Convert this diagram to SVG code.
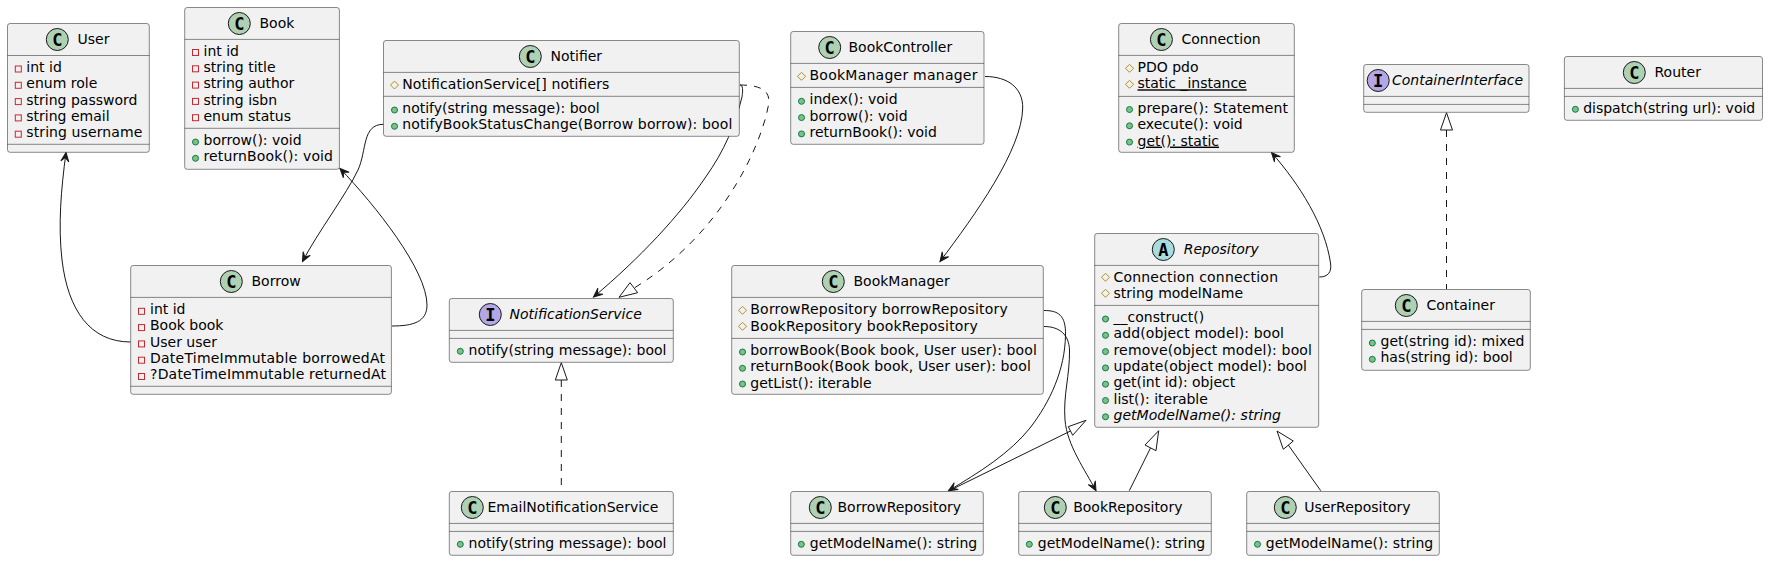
<svg xmlns="http://www.w3.org/2000/svg" width="1768" height="561" viewBox="0 0 1768 561">
<style>
text{font-family:"DejaVu Sans",sans-serif;font-size:14px;fill:#000}
.b{fill:#F1F1F1;stroke:#181818;stroke-width:.5}
.s{stroke:#181818;stroke-width:.5;fill:none}
.i{font-style:italic}
.u{text-decoration:underline}
.L{font-family:"DejaVu Sans Mono",monospace;font-weight:bold;font-size:17px;text-anchor:middle}
.C{fill:#ADD1B2;stroke:#181818;stroke-width:1}
.I{fill:#B4A7E5;stroke:#181818;stroke-width:1}
.A{fill:#A9DCDF;stroke:#181818;stroke-width:1}
.pr{fill:none;stroke:#C82930;stroke-width:1}
.pt{fill:none;stroke:#B38D22;stroke-width:1}
.pb{fill:#84BE84;stroke:#038048;stroke-width:1}
.l{fill:none;stroke:#181818;stroke-width:1}
.d{stroke-dasharray:7,7}
.ah{marker-end:url(#arrow)}
</style>
<defs>
<marker id="arrow" markerUnits="userSpaceOnUse" markerWidth="12" markerHeight="10" viewBox="0 0 12 10" refX="10" refY="5" orient="auto"><path d="M10,5 L1,1 L5,5 L1,9 Z" fill="#181818" stroke="#181818" stroke-width="1"/></marker>
<rect id="vpr" x="-3" y="-3" width="6" height="6" class="pr"/>
<path id="vpt" d="M0,-4 L4,0 L0,4 L-4,0 Z" class="pt"/>
<circle id="vpb" r="3" class="pb"/>
</defs>
<g id="connectors">
<path class="l ah" d="M383.5,124.3 C362,124.3 367,150 358,170 C346,195 318,232 302.5,261.5"/>
<path class="l ah" d="M392,326 C413,326 427,322 427,305 C427,270 375,205 340,168.5"/>
<path class="l ah" d="M130.7,342 C90,342 68,310 62,260 C58,225 61,190 66,152.5"/>
<path class="l ah" d="M740,85 C743,85 743,90 742,97 C735,125 725,150 705,178 C680,215 640,258 593.5,297"/>
<path class="l d" d="M635,287.5 C720,235 760,150 768.5,105 C771,90 760,85 739.5,85"/>
<path class="l" d="M619,297.3 L630,282.7 L637.7,292.7 Z"/>
<path class="l d" d="M561.3,380 L561.3,491"/>
<path class="l" d="M561.3,362.7 L555.3,380 L567.3,380 Z"/>
<path class="l d" d="M1446.5,130 L1446.5,289.3"/>
<path class="l" d="M1446.5,112.7 L1440.5,130 L1452.5,130 Z"/>
<path class="l ah" d="M985,76.5 C1008,76.5 1023,88 1022.7,108 C1022,150 975,215 940,261.5"/>
<path class="l ah" d="M1044,310.5 C1058,310.5 1066,315 1065.5,335 C1065,370 1050,402 1030,428 C1010,453 980,472 948.5,490.7"/>
<path class="l ah" d="M1044,326.5 C1060,326.5 1069,335 1069.5,350 C1070,375 1063,395 1065,420 C1067,445 1085,470 1096,490.7"/>
<path class="l" d="M949.3,490.7 L1070.5,431"/>
<path class="l" d="M1086,420.3 L1068.3,426.7 L1072.7,435.3 Z"/>
<path class="l" d="M1129.3,490.7 L1150.5,448"/>
<path class="l" d="M1158.7,430.7 L1145,445 L1156,450.7 Z"/>
<path class="l" d="M1320.7,490.7 L1288.3,445"/>
<path class="l" d="M1277,431 L1293.3,441 L1283.3,449.3 Z"/>
<path class="l ah" d="M1319.3,277 C1328,277 1332,272 1330.5,263 C1325,225 1300,185 1271.5,152.5"/>
</g>
<g id="User">
<rect class="b" x="7.5" y="23.5" width="141.8" height="128.8" rx="2.5"/>
<path class="s" d="M7.5,55.5H149.3M7.5,144.3H149.3"/>
<circle class="C" cx="57.3" cy="39.5" r="11"/><text class="L" x="57.3" y="45.5">C</text>
<text x="77.5" y="44">User</text>
<use href="#vpr" x="18.3" y="69"/><text x="26.3" y="72">int id</text>
<use href="#vpr" x="18.3" y="85.3"/><text x="26.3" y="88.3">enum role</text>
<use href="#vpr" x="18.3" y="101.6"/><text x="26.3" y="104.6">string password</text>
<use href="#vpr" x="18.3" y="117.9"/><text x="26.3" y="120.9">string email</text>
<use href="#vpr" x="18.3" y="134.2"/><text x="26.3" y="137.2" textLength="116">string username</text>
</g>
<g id="Book">
<rect class="b" x="184.7" y="7.5" width="154.7" height="161.8" rx="2.5"/>
<path class="s" d="M184.7,39.4H339.4M184.7,128.3H339.4"/>
<circle class="C" cx="239.3" cy="23.5" r="11"/><text class="L" x="239.3" y="29.5">C</text>
<text x="259.5" y="28">Book</text>
<use href="#vpr" x="195.5" y="52.5"/><text x="203.5" y="55.8">int id</text>
<use href="#vpr" x="195.5" y="68.8"/><text x="203.5" y="72.1">string title</text>
<use href="#vpr" x="195.5" y="85.1"/><text x="203.5" y="88.4">string author</text>
<use href="#vpr" x="195.5" y="101.4"/><text x="203.5" y="104.7">string isbn</text>
<use href="#vpr" x="195.5" y="117.7"/><text x="203.5" y="121">enum status</text>
<use href="#vpb" x="195.5" y="142"/><text x="203.5" y="144.8">borrow(): void</text>
<use href="#vpb" x="195.5" y="158.3"/><text x="203.5" y="161.1" textLength="129.5">returnBook(): void</text>
</g>
<g id="Notifier">
<rect class="b" x="383.5" y="40.5" width="355.8" height="95.8" rx="2.5"/>
<path class="s" d="M383.5,72.4H739.3M383.5,96.3H739.3"/>
<circle class="C" cx="530.3" cy="56.5" r="11"/><text class="L" x="530.3" y="62.5">C</text>
<text x="550.5" y="61">Notifier</text>
<use href="#vpt" x="394.5" y="85"/><text x="402.3" y="88.7" textLength="207">NotificationService[] notifiers</text>
<use href="#vpb" x="394.5" y="110"/><text x="402.3" y="113">notify(string message): bool</text>
<use href="#vpb" x="394.5" y="126.3"/><text x="402.3" y="129.3" textLength="330">notifyBookStatusChange(Borrow borrow): bool</text>
</g>
<g id="Borrow">
<rect class="b" x="130.7" y="265.5" width="260.7" height="128.8" rx="2.5"/>
<path class="s" d="M130.7,297.4H391.4M130.7,386.3H391.4"/>
<circle class="C" cx="231.3" cy="281.5" r="11"/><text class="L" x="231.3" y="287.5">C</text>
<text x="251.5" y="286">Borrow</text>
<use href="#vpr" x="141.5" y="311.3"/><text x="150" y="314">int id</text>
<use href="#vpr" x="141.5" y="327.6"/><text x="150" y="330.3">Book book</text>
<use href="#vpr" x="141.5" y="343.9"/><text x="150" y="346.6">User user</text>
<use href="#vpr" x="141.5" y="360.2"/><text x="150" y="362.9" textLength="235">DateTimeImmutable borrowedAt</text>
<use href="#vpr" x="141.5" y="376.5"/><text x="150" y="379.2" textLength="236">?DateTimeImmutable returnedAt</text>
</g>
<g id="NotificationService">
<rect class="b" x="449.3" y="298.5" width="224" height="63.8" rx="2.5"/>
<path class="s" d="M449.3,330.4H673.3M449.3,338.4H673.3"/>
<circle class="I" cx="490.3" cy="314.5" r="11"/><text class="L" x="490.3" y="320.5">I</text>
<text class="i" x="509.5" y="319">NotificationService</text>
<use href="#vpb" x="460.3" y="351.3"/><text x="468.5" y="354.6" textLength="198">notify(string message): bool</text>
</g>
<g id="EmailNotificationService">
<rect class="b" x="449.3" y="491.5" width="224" height="63.8" rx="2.5"/>
<path class="s" d="M449.3,523.4H673.3M449.3,531.4H673.3"/>
<circle class="C" cx="472.3" cy="507.5" r="11"/><text class="L" x="472.3" y="513.5">C</text>
<text x="487.5" y="512">EmailNotificationService</text>
<use href="#vpb" x="460.3" y="544.3"/><text x="468.5" y="547.6" textLength="198">notify(string message): bool</text>
</g>
<g id="BookController">
<rect class="b" x="790.7" y="31.5" width="193.3" height="112.8" rx="2.5"/>
<path class="s" d="M790.7,63.4H984M790.7,87.4H984"/>
<circle class="C" cx="829.7" cy="47.5" r="11"/><text class="L" x="829.7" y="53.5">C</text>
<text x="848.5" y="52">BookController</text>
<use href="#vpt" x="801.5" y="76.3"/><text x="809.5" y="80" textLength="168">BookManager manager</text>
<use href="#vpb" x="801.5" y="101.3"/><text x="809.5" y="104.3">index(): void</text>
<use href="#vpb" x="801.5" y="117.6"/><text x="809.5" y="120.6">borrow(): void</text>
<use href="#vpb" x="801.5" y="133.9"/><text x="809.5" y="136.9">returnBook(): void</text>
</g>
<g id="BookManager">
<rect class="b" x="731.7" y="265.5" width="311.6" height="128.8" rx="2.5"/>
<path class="s" d="M731.7,297.4H1043.3M731.7,338.4H1043.3"/>
<circle class="C" cx="833.3" cy="281.5" r="11"/><text class="L" x="833.3" y="287.5">C</text>
<text x="853.5" y="286">BookManager</text>
<use href="#vpt" x="742.5" y="310.3"/><text x="750.3" y="314" textLength="257.5">BorrowRepository borrowRepository</text>
<use href="#vpt" x="742.5" y="326.3"/><text x="750.3" y="330.5" textLength="227.5">BookRepository bookRepository</text>
<use href="#vpb" x="742.5" y="352"/><text x="750.3" y="355" textLength="286.5">borrowBook(Book book, User user): bool</text>
<use href="#vpb" x="742.5" y="368.3"/><text x="750.3" y="371.3" textLength="280.5">returnBook(Book book, User user): bool</text>
<use href="#vpb" x="742.5" y="384"/><text x="750.3" y="387.6">getList(): iterable</text>
</g>
<g id="BorrowRepository">
<rect class="b" x="790.7" y="491.5" width="192.6" height="63.8" rx="2.5"/>
<path class="s" d="M790.7,523.4H983.3M790.7,531.4H983.3"/>
<circle class="C" cx="820.3" cy="507.5" r="11"/><text class="L" x="820.3" y="513.5">C</text>
<text x="837.5" y="512">BorrowRepository</text>
<use href="#vpb" x="801.3" y="544.3"/><text x="809.7" y="547.6" textLength="167.5">getModelName(): string</text>
</g>
<g id="BookRepository">
<rect class="b" x="1018.7" y="491.5" width="192.6" height="63.8" rx="2.5"/>
<path class="s" d="M1018.7,523.4H1211.3M1018.7,531.4H1211.3"/>
<circle class="C" cx="1055.3" cy="507.5" r="11"/><text class="L" x="1055.3" y="513.5">C</text>
<text x="1073.2" y="512">BookRepository</text>
<use href="#vpb" x="1029.3" y="544.3"/><text x="1037.7" y="547.6" textLength="167.5">getModelName(): string</text>
</g>
<g id="UserRepository">
<rect class="b" x="1246.7" y="491.5" width="192.6" height="63.8" rx="2.5"/>
<path class="s" d="M1246.7,523.4H1439.3M1246.7,531.4H1439.3"/>
<circle class="C" cx="1285.3" cy="507.5" r="11"/><text class="L" x="1285.3" y="513.5">C</text>
<text x="1304.2" y="512">UserRepository</text>
<use href="#vpb" x="1257.5" y="544.3"/><text x="1265.7" y="547.6" textLength="167.5">getModelName(): string</text>
</g>
<g id="Repository">
<rect class="b" x="1094.7" y="233.5" width="224" height="193.8" rx="2.5"/>
<path class="s" d="M1094.7,265.4H1318.7M1094.7,305.4H1318.7"/>
<circle class="A" cx="1163.3" cy="249.5" r="11"/><text class="L" x="1163.3" y="255.5">A</text>
<text class="i" x="1183.7" y="254">Repository</text>
<use href="#vpt" x="1105.5" y="277.3"/><text x="1113.5" y="282" textLength="164.5">Connection connection</text>
<use href="#vpt" x="1105.5" y="293.3"/><text x="1113.5" y="298.3">string modelName</text>
<use href="#vpb" x="1105.5" y="319"/><text x="1113.5" y="322">__construct()</text>
<use href="#vpb" x="1105.5" y="335.3"/><text x="1113.5" y="338.3" textLength="170.5">add(object model): bool</text>
<use href="#vpb" x="1105.5" y="351.6"/><text x="1113.5" y="354.6" textLength="198.5">remove(object model): bool</text>
<use href="#vpb" x="1105.5" y="367.9"/><text x="1113.5" y="370.9" textLength="193.5">update(object model): bool</text>
<use href="#vpb" x="1105.5" y="384.2"/><text x="1113.5" y="387.2">get(int id): object</text>
<use href="#vpb" x="1105.5" y="400.5"/><text x="1113.5" y="403.5">list(): iterable</text>
<use href="#vpb" x="1105.5" y="416.8"/><text class="i" x="1113.5" y="419.8" textLength="167.5">getModelName(): string</text>
</g>
<g id="Connection">
<rect class="b" x="1118.7" y="23.5" width="175.6" height="128.8" rx="2.5"/>
<path class="s" d="M1118.7,55.4H1294.3M1118.7,96.4H1294.3"/>
<circle class="C" cx="1161.4" cy="39.5" r="11"/><text class="L" x="1161.4" y="45.5">C</text>
<text x="1181.4" y="44">Connection</text>
<use href="#vpt" x="1129.5" y="68.3"/><text x="1137.5" y="72">PDO pdo</text>
<use href="#vpt" x="1129.5" y="84.3"/><text class="u" x="1137.5" y="88.3">static _instance</text>
<use href="#vpb" x="1129.5" y="109.5"/><text x="1137.5" y="113" textLength="150.5">prepare(): Statement</text>
<use href="#vpb" x="1129.5" y="125.8"/><text x="1137.5" y="129.3">execute(): void</text>
<use href="#vpb" x="1129.5" y="142.1"/><text class="u" x="1137.5" y="145.6">get(): static</text>
</g>
<g id="ContainerInterface">
<rect class="b" x="1363.7" y="64.5" width="165.3" height="47.8" rx="2.5"/>
<path class="s" d="M1363.7,96.4H1529M1363.7,104.4H1529"/>
<circle class="I" cx="1378.2" cy="80.5" r="11"/><text class="L" x="1378.2" y="86.5">I</text>
<text class="i" x="1392" y="85">ContainerInterface</text>
</g>
<g id="Container">
<rect class="b" x="1361.7" y="289.5" width="168.6" height="80.8" rx="2.5"/>
<path class="s" d="M1361.7,321.4H1530.3M1361.7,329.4H1530.3"/>
<circle class="C" cx="1406.3" cy="305.5" r="11"/><text class="L" x="1406.3" y="311.5">C</text>
<text x="1426.5" y="310">Container</text>
<use href="#vpb" x="1372.3" y="343"/><text x="1380.5" y="346" textLength="144">get(string id): mixed</text>
<use href="#vpb" x="1372.3" y="359.3"/><text x="1380.5" y="362.3">has(string id): bool</text>
</g>
<g id="Router">
<rect class="b" x="1564.4" y="56.5" width="198.1" height="63.8" rx="2.5"/>
<path class="s" d="M1564.4,88.4H1762.5M1564.4,96.4H1762.5"/>
<circle class="C" cx="1634.3" cy="72.5" r="11"/><text class="L" x="1634.3" y="78.5">C</text>
<text x="1654.5" y="77">Router</text>
<use href="#vpb" x="1575.4" y="109.3"/><text x="1583.2" y="112.6" textLength="172">dispatch(string url): void</text>
</g>
</svg>
